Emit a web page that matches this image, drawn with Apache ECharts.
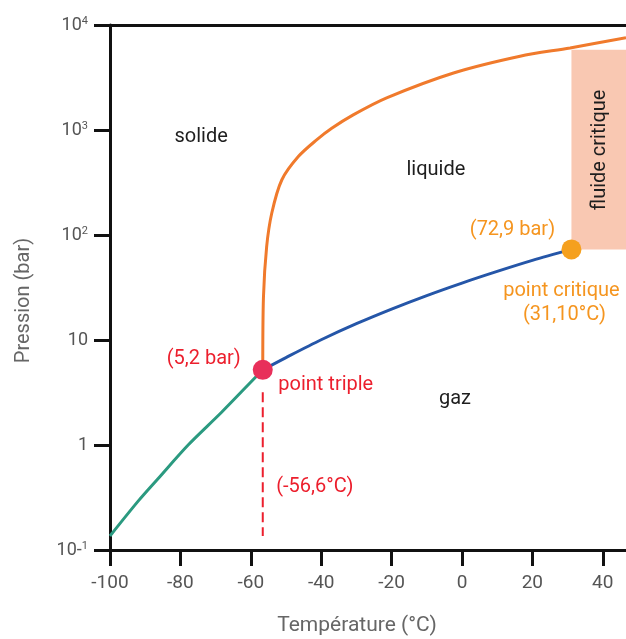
<!DOCTYPE html>
<html>
<head>
<meta charset="utf-8">
<script src="https://cdn.jsdelivr.net/npm/echarts@6/dist/echarts.min.js"></script>
<style>
  html, body { margin: 0; padding: 0; background: #ffffff; }
  #chart { width: 626px; height: 639px; }
</style>
</head>
<body>
<div id="chart"></div>
<script>
// ---- Data ----
const xTicks = [-100, -80, -60, -40, -20, 0, 20, 40];
const yTicks = [0.1, 1, 10, 100, 1000, 10000];
const yTickBase = ['10-', '1', '10', '10', '10', '10'];
const yTickSup = ['1', '', '', '2', '3', '4'];

// solid-gas (sublimation) curve
const sublimationT = [-100, -92, -86.3, -77.8, -68.3, -58.8, -56.6];
const sublimationP = [0.136, 0.292, 0.48, 1.0, 2.05, 4.37, 5.2];

// liquid-gas (vaporisation) curve
const vaporT = [-56.6, -50, -40, -30, -20, -10, 0, 10, 20, 31.1];
const vaporP = [5.2, 6.8, 10.05, 14.3, 19.7, 26.5, 34.85, 45.0, 57.3, 72.9];

// solid-liquid (fusion) curve
const meltingT = [-56.6, -56.4, -55.5, -54.05, -51.2, -46.5, -41.3, -37, -30.9, -21.4, -2.4, 16.5, 30.7, 46.6];
const meltingP = [5.2, 25.7, 77, 161, 334, 558, 805, 1038, 1393, 2023, 3490, 5040, 6050, 7560];

const triplePoint = [-56.6, 5.2];
const criticalPoint = [31.1, 72.9];
const tripleDropP = [3.18, 0.136];      // dashed guide below the triple point
const fluidTopP = 5800;                 // top of the "fluide critique" band

const regionNames = ['solide', 'liquide', 'gaz', 'fluide critique'];
const regionAnchors = [[-74.1, 861], [-7.4, 417], [-2.0, 2.77], [39.2, 646]];
const tripleTexts = ['(5,2 bar)', 'point triple', '(-56,6°C)'];
const criticalTexts = ['(72,9 bar)', 'point critique', '(31,10°C)'];

// ---- Chart ----
const xMin = -100, xMax = 46.6;
const zip = (a, b) => a.map((v, i) => [v, b[i]]);
const RED = '#ec1f2d', ORANGE_TXT = '#f5951f', DARK = '#1e1e1e', AXIS = '#111111';
const FONT = 'Roboto';

const chart = echarts.init(document.getElementById('chart'), null, { renderer: 'canvas' });

const regionRotate = [0, 0, 0, 90];
const tripleOffsets = [[-59, -11], [63, 15], [52, 117]];
const criticalOffsets = [[-59, -19], [-10, 42], [-7, 66]];

const labelData = [];
regionNames.forEach((t, i) => labelData.push({
  value: regionAnchors[i],
  label: { formatter: t, color: DARK, rotate: regionRotate[i] }
}));
tripleTexts.forEach((t, i) => labelData.push({
  value: triplePoint,
  label: { formatter: t, color: RED, offset: tripleOffsets[i] }
}));
criticalTexts.forEach((t, i) => labelData.push({
  value: criticalPoint,
  label: { formatter: t, color: ORANGE_TXT, offset: criticalOffsets[i] }
}));

const option = {
  animation: false,
  backgroundColor: '#ffffff',
  textStyle: { fontFamily: FONT },
  grid: { left: 110, right: 0, top: 25, bottom: 89, containLabel: false, outerBoundsMode: 'none' },
  xAxis: [{
    type: 'value', min: xMin, max: xMax, position: 'bottom',
    name: 'Température (°C)', nameLocation: 'middle', nameGap: 65,
    nameTextStyle: { fontSize: 21, color: '#666666', fontFamily: FONT, padding: [0, 22, 0, 0] },
    axisLine: { show: true, onZero: false, lineStyle: { color: AXIS, width: 3 } },
    axisTick: { show: true, inside: false, length: 16, lineStyle: { color: AXIS, width: 3 }, customValues: xTicks },
    axisLabel: { fontSize: 19, color: '#555555', margin: 24, fontFamily: FONT, customValues: xTicks },
    splitLine: { show: false }
  }, {
    type: 'value', min: xMin, max: xMax, position: 'top',
    axisLine: { show: true, onZero: false, lineStyle: { color: AXIS, width: 3 } },
    axisTick: { show: false }, axisLabel: { show: false }, splitLine: { show: false }
  }],
  yAxis: {
    type: 'log', logBase: 10, min: 0.1, max: 10000,
    name: 'Pression (bar)', nameLocation: 'middle', nameGap: 76,
    nameTextStyle: { fontSize: 20, color: '#666666', fontFamily: FONT, padding: [0, 26, 0, 0] },
    axisLine: { show: true, onZero: false, lineStyle: { color: AXIS, width: 3 } },
    axisTick: { show: true, inside: false, length: 16, lineStyle: { color: AXIS, width: 3 } },
    axisLabel: {
      margin: 22, fontFamily: FONT,
      formatter: function (v) {
        const e = Math.round(Math.log10(v));
        const i = yTicks.findIndex(t => Math.round(Math.log10(t)) === e);
        if (i < 0) return '';
        return '{b|' + yTickBase[i] + '}' + (yTickSup[i] ? '{s|' + yTickSup[i] + '}' : '');
      },
      rich: {
        b: { fontSize: 18, color: '#555555', fontFamily: FONT },
        s: { fontSize: 11, color: '#555555', fontFamily: FONT, verticalAlign: 'top' }
      }
    },
    splitLine: { show: false }
  },
  series: [
    {
      name: 'fluide critique zone', type: 'line', data: [], z: 1, silent: true,
      markArea: {
        silent: true,
        itemStyle: { color: '#f9c8b2', opacity: 1 },
        data: [[{ coord: [criticalPoint[0], criticalPoint[1]] }, { coord: [xMax, fluidTopP] }]]
      }
    },
    {
      name: 'solide-gaz', type: 'line', z: 3, data: zip(sublimationT, sublimationP),
      symbol: 'none', smooth: 0.3,
      lineStyle: { color: '#2b9a80', width: 3 }
    },
    {
      name: 'liquide-gaz', type: 'line', z: 3, data: zip(vaporT, vaporP),
      symbol: 'none', smooth: 0.3,
      lineStyle: { color: '#2556a8', width: 3 }
    },
    {
      name: 'solide-liquide', type: 'line', z: 3, data: zip(meltingT, meltingP),
      symbol: 'none', smooth: 0.3,
      lineStyle: { color: '#f07a2c', width: 3 }
    },
    {
      name: 'guide', type: 'line', z: 3,
      data: tripleDropP.map(p => [triplePoint[0], p]),
      symbol: 'none',
      lineStyle: { color: RED, width: 2, type: [10, 5] }
    },
    {
      name: 'points', type: 'scatter', z: 5,
      data: [
        { value: triplePoint, itemStyle: { color: '#e8305a', opacity: 1 } },
        { value: criticalPoint, itemStyle: { color: '#f5a01e', opacity: 1 } }
      ],
      symbolSize: 20,
      itemStyle: { opacity: 1 }
    },
    {
      name: 'labels', type: 'scatter', z: 6, symbolSize: 0, silent: true,
      itemStyle: { opacity: 1 },
      data: labelData,
      label: { show: true, position: 'inside', fontSize: 20, fontFamily: FONT }
    }
  ]
};

chart.setOption(option);
</script>
</body>
</html>
